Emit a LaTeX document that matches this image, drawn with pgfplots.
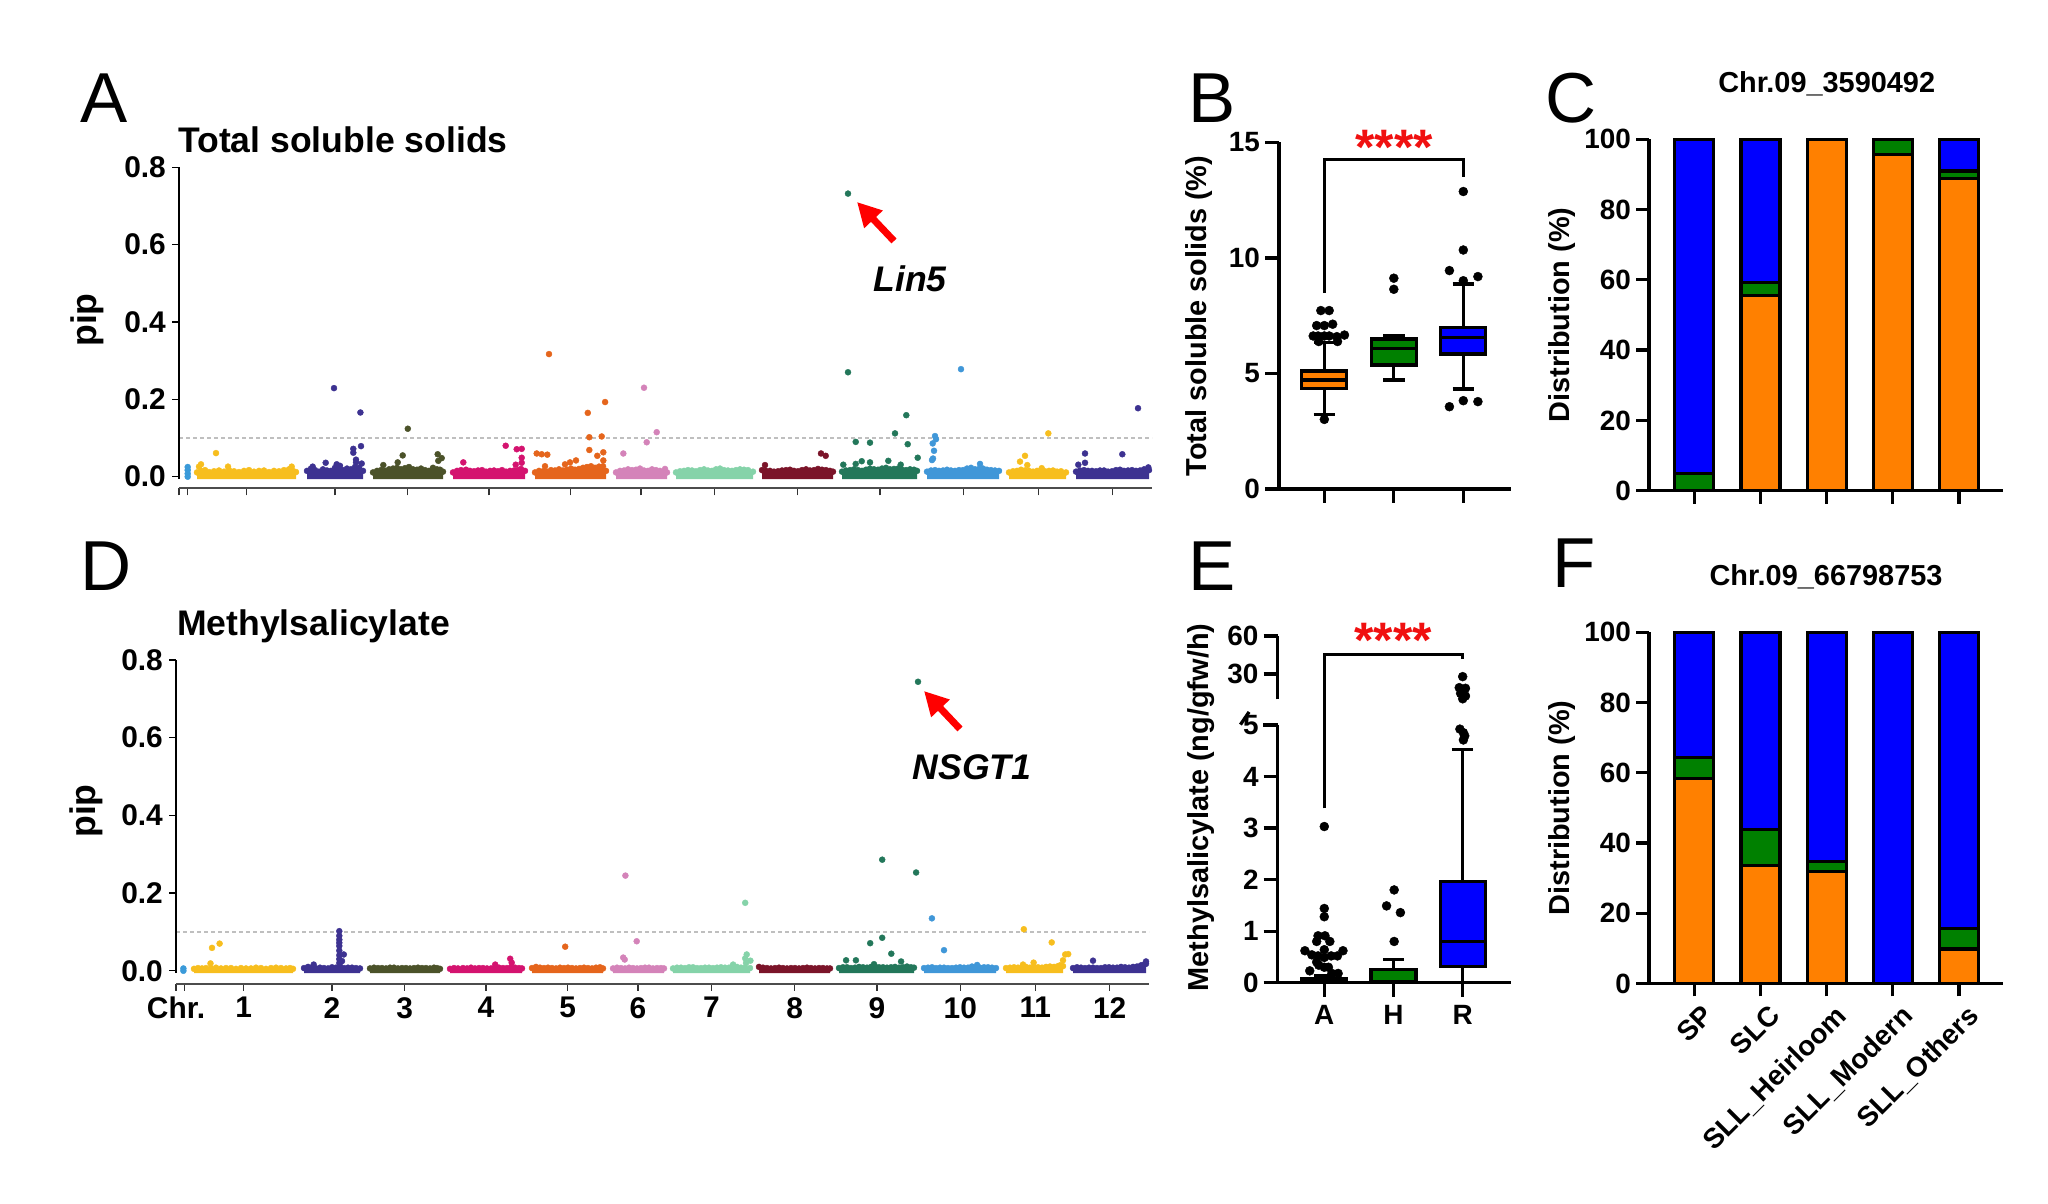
\documentclass[border=0pt]{standalone}
\usepackage{fontspec}
\setmainfont{Liberation Sans}
\usepackage{pgfplots}
\pgfplotsset{compat=1.18}
\usepgfplotslibrary{statistics}
\usetikzlibrary{arrows.meta}

\definecolor{mz0}{HTML}{3A9AD9}
\definecolor{mz1}{HTML}{F7BE1E}
\definecolor{mz2}{HTML}{3D3291}
\definecolor{mz3}{HTML}{4B5229}
\definecolor{mz4}{HTML}{D4136F}
\definecolor{mz5}{HTML}{E5651C}
\definecolor{mz6}{HTML}{D483B9}
\definecolor{mz7}{HTML}{85D3A9}
\definecolor{mz8}{HTML}{7B1429}
\definecolor{mz9}{HTML}{23775A}
\definecolor{mzten}{HTML}{4097D8}
\definecolor{gporange}{HTML}{FF8000}
\definecolor{gpgreen}{HTML}{008000}
\definecolor{gpblue}{HTML}{0000FF}
\definecolor{starred}{HTML}{F01010}

\newcommand\tickfont{\fontsize{28}{30}\selectfont\bfseries}
\newcommand\mztickfont{\fontsize{30}{32}\selectfont\bfseries}
\newcommand\labfont{\fontsize{29}{31}\selectfont\bfseries}
\newcommand\titfont{\fontsize{35.7}{38}\selectfont\bfseries}
\newcommand\subtitfont{\fontsize{29}{31}\selectfont\bfseries}
\newcommand\letfont{\fontsize{71}{75}\selectfont}
\newcommand\starfont{\fontsize{50}{52}\selectfont\bfseries}

% color, x0, x1, bottom, band tops, outliers
\newcommand\mzchr[6]{%
  \addplot[fill=#1, draw=none] coordinates {(#2,#4) #5 (#3,#4)};
  \addplot[only marks, mark=*, mark size=3bp, color=#1] coordinates {#5 #6};
}

\pgfplotsset{
  mz/.style={anchor=south west, scale only axis, clip=false,
    xmin=0, xmax=973, ymax=0.8,
    axis x line=bottom, axis y line=left, axis line style={-},
    x axis line style={draw=black!70, line width=2bp},
    y axis line style={draw=none},
    xtick={0,8.7,67.7,156,228.7,310,391.7,462,535.3,618.7,701,784.3,859.3,933.7},
    ytick={0,0.2,0.4,0.6,0.8}, yticklabels={0.0,0.2,0.4,0.6,0.8},
    tick align=outside, major tick length=7bp,
    xtick style={draw=black!80, line width=1.5bp},
    ytick style={draw=black, line width=1.3bp},
    ticklabel style={font=\mztickfont},
    yticklabel style={inner sep=0pt, xshift=-6bp},
    xticklabel style={inner sep=0pt, yshift=-6bp},
  },
  mzthr/.style={draw=black!25, line width=1.3bp, dash pattern=on 4bp off 3bp},
  gp/.style={anchor=south west, scale only axis, clip=false,
    axis x line=bottom, axis y line=left,
    axis line style={-, line width=3.3bp, black},
    tick align=outside, major tick length=14bp,
    tick style={line width=3.3bp, black},
    ticklabel style={font=\tickfont},
    yticklabel style={inner sep=0pt, xshift=-5bp},
    xticklabel style={inner sep=0pt, yshift=-8bp},
  },
  gpbox/.style={draw=black, line width=3.3bp, boxplot/draw direction=y},
}

\begin{document}
\begin{tikzpicture}
\useasboundingbox (0,0) rectangle (2048bp,1204bp);

%================ Panel A =================
\begin{axis}[mz, at={(179bp,715.7bp)}, width=973bp, height=321bp, ymin=-0.030,
  xticklabels={}]
\addplot[mzthr] coordinates {(0,0.1) (973,0.1)};
\mzchr{mz0}{8.7}{8.7}{-0.006}{(8.7,0.0)(8.7,0.008)(8.7,0.017)(8.7,0.025)}{}
\mzchr{mz1}{18}{117}{-0.006}{(18,0.011)(22,0.015)(26,0.017)(30,0.012)(35,0.014)(40,0.016)(45,0.013)(50,0.017)(55,0.014)(60,0.012)(65,0.015)(70,0.017)(75,0.013)(80,0.015)(85,0.016)(90,0.012)(95,0.015)(100,0.014)(105,0.017)(110,0.019)(114,0.015)(117,0.012)}{(37,0.061)(22,0.032)(20,0.026)(112.7,0.026)(49,0.026)}
\mzchr{mz2}{128}{184}{-0.006}{(128,0.015)(132,0.021)(136,0.017)(140,0.013)(144,0.019)(148,0.016)(152,0.015)(156,0.023)(160,0.018)(164,0.017)(168,0.021)(172,0.019)(176,0.025)(180,0.023)(184,0.015)}{(155,0.229)(181.4,0.166)(182,0.079)(174.3,0.072)(174.3,0.062)(177,0.044)(177,0.037)(146.7,0.036)(157.7,0.032)(161,0.028)(133.7,0.026)(182.7,0.034)}
\mzchr{mz3}{194}{264}{-0.006}{(194,0.011)(198,0.015)(202,0.017)(206,0.015)(210,0.019)(214,0.021)(218,0.023)(222,0.019)(226,0.022)(230,0.025)(234,0.019)(238,0.018)(242,0.021)(246,0.017)(250,0.015)(254,0.023)(258,0.019)(261,0.018)(264,0.013)}{(228.8,0.124)(223.7,0.055)(258.7,0.058)(262.7,0.048)(259.3,0.041)(204.3,0.030)(218.7,0.037)}
\mzchr{mz4}{274}{346}{-0.006}{(274,0.011)(278,0.015)(282,0.017)(287,0.018)(291,0.015)(295,0.014)(299,0.016)(303,0.017)(307,0.013)(311,0.015)(315,0.016)(319,0.014)(323,0.017)(327,0.013)(331,0.015)(335,0.016)(339,0.017)(342,0.020)(346,0.015)}{(326.7,0.080)(337.7,0.071)(342.7,0.072)(342.7,0.049)(342.7,0.036)(284.3,0.037)(336.7,0.031)}
\mzchr{mz5}{356}{427}{-0.006}{(356,0.011)(360,0.015)(364,0.014)(368,0.013)(372,0.017)(376,0.016)(380,0.019)(384,0.016)(388,0.018)(392,0.021)(396,0.018)(400,0.020)(404,0.023)(408,0.025)(412,0.027)(416,0.023)(420,0.026)(424,0.027)(427,0.015)}{(370,0.317)(426.1,0.193)(408.8,0.165)(410.3,0.102)(422.7,0.104)(410.3,0.069)(424.3,0.063)(418.3,0.054)(357.7,0.060)(362.7,0.058)(368.3,0.057)(397,0.042)(391,0.037)(386,0.032)(366,0.027)(424.3,0.042)}
\mzchr{mz6}{437}{488}{-0.006}{(437,0.011)(441,0.015)(445,0.016)(449,0.019)(453,0.017)(457,0.018)(461,0.021)(465,0.016)(469,0.015)(473,0.019)(477,0.017)(481,0.015)(485,0.013)(488,0.011)}{(465,0.230)(477.7,0.115)(467.7,0.089)(444.3,0.060)(486,0.020)}
\mzchr{mz7}{497}{574}{-0.006}{(497,0.011)(501,0.014)(505,0.015)(509,0.017)(513,0.016)(517,0.014)(521,0.017)(525,0.019)(529,0.016)(533,0.015)(537,0.019)(541,0.021)(545,0.017)(549,0.016)(553,0.015)(557,0.017)(561,0.019)(565,0.018)(569,0.017)(574,0.013)}{}
\mzchr{mz8}{583}{654}{-0.006}{(583,0.017)(587,0.015)(591,0.015)(595,0.013)(599,0.014)(603,0.016)(607,0.017)(611,0.018)(615,0.015)(619,0.014)(623,0.017)(627,0.019)(631,0.016)(635,0.017)(639,0.020)(643,0.018)(647,0.017)(651,0.015)(654,0.013)}{(642,0.060)(646.7,0.054)(586,0.030)}
\mzchr{mz9}{663}{738}{-0.006}{(663,0.013)(667,0.016)(671,0.017)(675,0.019)(679,0.017)(683,0.015)(687,0.018)(691,0.021)(695,0.019)(699,0.018)(703,0.021)(707,0.023)(711,0.019)(715,0.020)(719,0.021)(723,0.018)(727,0.017)(731,0.019)(735,0.018)(738,0.015)}{(669,0.732)(669,0.270)(727.3,0.159)(716,0.112)(676.7,0.090)(691,0.088)(728.7,0.084)(738.7,0.049)(709.3,0.041)(682.7,0.040)(691,0.037)(676.7,0.033)(664.3,0.031)(721.7,0.031)}
\mzchr{mzten}{748}{820}{-0.006}{(748,0.013)(752,0.016)(756,0.017)(760,0.015)(764,0.016)(768,0.018)(772,0.016)(776,0.015)(780,0.017)(784,0.017)(788,0.021)(792,0.023)(796,0.019)(800,0.020)(804,0.021)(808,0.018)(812,0.017)(816,0.016)(820,0.015)}{(782,0.278)(756,0.105)(757,0.097)(753.7,0.086)(755,0.067)(754,0.047)(753,0.043)(801,0.033)}
\mzchr{mz1}{830}{887}{-0.006}{(830,0.011)(834,0.014)(838,0.015)(842,0.018)(846,0.016)(850,0.015)(854,0.013)(858,0.015)(862,0.016)(866,0.014)(870,0.015)(874,0.016)(878,0.013)(882,0.014)(887,0.011)}{(869.3,0.112)(846,0.054)(841,0.039)(848.3,0.030)(862.7,0.022)}
\mzchr{mz2}{897}{970}{-0.006}{(897,0.013)(901,0.016)(905,0.017)(909,0.015)(913,0.015)(917,0.014)(921,0.016)(925,0.016)(929,0.013)(933,0.014)(937,0.017)(941,0.018)(945,0.015)(949,0.016)(953,0.017)(957,0.015)(961,0.016)(965,0.019)(970,0.017)}{(959,0.177)(906,0.060)(943.3,0.058)(906,0.036)(899.3,0.031)(969.3,0.024)}
\draw[line width=1.3bp] (axis cs:0,-0.005) -- (axis cs:0,0.8);
\end{axis}

%================ Panel D =================
\begin{axis}[mz, at={(176bp,220bp)}, width=973bp, height=324bp, ymin=-0.034,
  xticklabels={Chr.,,1,2,3,4,5,6,7,8,9,10,11,12}]
\addplot[mzthr] coordinates {(0,0.1) (973,0.1)};
\mzchr{mz0}{7.4}{7.4}{-0.006}{(7.4,0.0)(7.4,0.006)}{}
\mzchr{mz1}{18}{117}{-0.006}{(18,0.005)(22,0.007)(26,0.006)(30,0.007)(35,0.006)(40,0.008)(45,0.006)(50,0.007)(55,0.007)(60,0.005)(65,0.007)(70,0.006)(75,0.006)(80,0.008)(85,0.007)(90,0.005)(95,0.007)(100,0.008)(105,0.007)(110,0.006)(114,0.007)(117,0.005)}{(43.6,0.070)(36,0.059)(34.5,0.019)}
\mzchr{mz2}{128}{184}{-0.006}{(128,0.007)(132,0.010)(136,0.008)(140,0.006)(144,0.008)(148,0.007)(152,0.006)(156,0.009)(160,0.008)(164,0.012)(168,0.007)(172,0.008)(176,0.008)(180,0.007)(184,0.006)}{(163.3,0.102)(163.3,0.090)(163.3,0.080)(163.3,0.072)(163.3,0.064)(163.3,0.052)(163.3,0.040)(163.3,0.030)(163.3,0.020)(167.8,0.042)(137.7,0.016)(166,0.025)}
\mzchr{mz3}{194}{264}{-0.006}{(194,0.006)(198,0.008)(202,0.007)(206,0.007)(210,0.006)(214,0.008)(218,0.008)(222,0.006)(226,0.007)(230,0.007)(234,0.006)(238,0.007)(242,0.008)(246,0.007)(250,0.007)(254,0.006)(258,0.008)(261,0.007)(264,0.005)}{}
\mzchr{mz4}{274}{346}{-0.006}{(274,0.005)(278,0.007)(282,0.006)(287,0.007)(291,0.006)(295,0.008)(299,0.006)(303,0.007)(307,0.007)(311,0.006)(315,0.006)(319,0.008)(323,0.008)(327,0.007)(331,0.007)(335,0.009)(339,0.008)(343,0.007)(346,0.006)}{(334.2,0.031)(335.7,0.021)(319.2,0.016)}
\mzchr{mz5}{356}{427}{-0.006}{(356,0.007)(360,0.010)(364,0.008)(368,0.007)(372,0.008)(376,0.007)(380,0.006)(384,0.008)(388,0.007)(392,0.008)(396,0.007)(400,0.006)(404,0.007)(408,0.008)(412,0.007)(416,0.006)(420,0.008)(424,0.009)(427,0.006)}{(389.2,0.062)}
\mzchr{mz6}{437}{488}{-0.006}{(437,0.006)(441,0.008)(445,0.007)(449,0.006)(453,0.008)(457,0.007)(461,0.006)(465,0.007)(469,0.008)(473,0.008)(477,0.006)(481,0.007)(485,0.007)(488,0.006)}{(449.4,0.245)(460.7,0.076)(447.2,0.034)(448.7,0.029)}
\mzchr{mz7}{497}{574}{-0.006}{(497,0.006)(501,0.008)(505,0.008)(509,0.007)(513,0.009)(517,0.009)(521,0.007)(525,0.007)(529,0.008)(533,0.008)(537,0.007)(541,0.008)(545,0.009)(549,0.008)(553,0.008)(557,0.009)(561,0.010)(565,0.008)(569,0.008)(574,0.007)}{(569.2,0.175)(570.7,0.042)(574.4,0.026)(569.2,0.032)(557.1,0.016)(570,0.020)}
\mzchr{mz8}{583}{654}{-0.006}{(583,0.010)(587,0.008)(591,0.007)(595,0.006)(599,0.007)(603,0.008)(607,0.007)(611,0.006)(615,0.007)(619,0.007)(623,0.006)(627,0.007)(631,0.008)(635,0.007)(639,0.006)(643,0.007)(647,0.007)(651,0.006)(654,0.006)}{}
\mzchr{mz9}{663}{738}{-0.006}{(663,0.007)(667,0.009)(671,0.009)(675,0.007)(679,0.008)(683,0.010)(687,0.009)(691,0.008)(695,0.010)(699,0.011)(703,0.009)(707,0.009)(711,0.008)(715,0.009)(719,0.010)(723,0.008)(727,0.009)(731,0.011)(735,0.009)(738,0.008)}{(742,0.744)(706.2,0.286)(740.1,0.253)(706.2,0.085)(694.2,0.071)(715.3,0.044)(670.1,0.027)(679.9,0.027)(725.1,0.024)(698,0.017)}
\mzchr{mzten}{748}{820}{-0.006}{(748,0.007)(752,0.008)(756,0.009)(760,0.007)(764,0.008)(768,0.008)(772,0.007)(776,0.007)(780,0.008)(784,0.009)(788,0.008)(792,0.008)(796,0.011)(800,0.009)(804,0.008)(808,0.009)(812,0.009)(816,0.008)(820,0.007)}{(755.9,0.135)(768,0.053)(801.1,0.015)}
\mzchr{mz1}{830}{887}{-0.006}{(830,0.007)(834,0.008)(838,0.009)(842,0.008)(846,0.009)(850,0.010)(854,0.008)(858,0.009)(862,0.009)(866,0.008)(870,0.010)(874,0.011)(878,0.010)(882,0.012)(884,0.014)(887,0.012)}{(847.8,0.107)(875.7,0.073)(892.2,0.043)(889.2,0.042)(887,0.027)(857.6,0.021)(847,0.016)}
\mzchr{mz2}{897}{970}{-0.006}{(897,0.007)(901,0.009)(905,0.008)(909,0.007)(913,0.008)(917,0.008)(921,0.007)(925,0.007)(929,0.009)(933,0.009)(937,0.008)(941,0.008)(945,0.010)(949,0.009)(953,0.008)(957,0.010)(961,0.011)(965,0.014)(970,0.018)}{(917,0.026)(970,0.024)(968,0.016)}
\draw[line width=1.3bp] (axis cs:0,-0.005) -- (axis cs:0,0.8);
\end{axis}

% titles, labels, arrows for A and D
\node[anchor=base west, inner sep=0, font=\titfont] at (178bp,1051bp) {Total soluble solids};
\node[anchor=base west, inner sep=0, font=\titfont] at (177bp,568bp) {Methylsalicylate};
\node[rotate=90, inner sep=0, font=\titfont] at (87bp,884bp) {pip};
\node[rotate=90, inner sep=0, font=\titfont] at (86bp,393bp) {pip};
\draw[red, line width=7bp, -{Triangle[length=24bp, width=24bp]}] (894bp,963bp) -- (857bp,1002bp);
\draw[red, line width=7bp, -{Triangle[length=24bp, width=24bp]}] (960bp,475bp) -- (924bp,513bp);
\node[inner sep=0, font=\titfont\itshape] at (910bp,925bp) {Lin5};
\node[inner sep=0, font=\titfont\itshape] at (972bp,437bp) {NSGT1};

%================ Panel B =================
\begin{axis}[gp, at={(1279bp,715bp)}, width=231.7bp, height=346.7bp,
  xmin=0.348, xmax=3.682, ymin=0, ymax=15,
  ytick={0,5,10,15}, yticklabels={0,5,10,15},
  xtick={1,2,3}, xticklabels={,,}]
\addplot[gpbox, fill=gporange, boxplot prepared={draw position=1, lower whisker=3.23, lower quartile=4.36, median=4.72, upper quartile=5.11, upper whisker=6.35, box extend=0.647, whisker extend=0.31}] coordinates {};
\addplot[gpbox, fill=gpgreen, boxplot prepared={draw position=2, lower whisker=4.72, lower quartile=5.37, median=6.07, upper quartile=6.49, upper whisker=6.65, box extend=0.647, whisker extend=0.31}] coordinates {};
\addplot[gpbox, fill=gpblue, boxplot prepared={draw position=3, lower whisker=4.33, lower quartile=5.84, median=6.56, upper quartile=7.0, upper whisker=8.87, box extend=0.647, whisker extend=0.31}] coordinates {};
\addplot[only marks, mark=*, mark size=4.5bp, black] coordinates {
 (1,3.01) (0.84,6.62) (0.91,6.62) (1,6.62) (1.07,6.62) (1.18,6.59) (1.29,6.66) (1.19,6.38) (0.92,6.38)
 (0.89,7.07) (1,7.07) (1.12,7.13) (0.95,7.72) (1.07,7.72)
 (2,9.12) (2,8.64)
 (3,12.87) (3,10.34) (2.80,9.45) (3,9.01) (3.21,9.19) (2.80,3.56) (3,3.82) (3.21,3.78)};
\draw[line width=3.3bp] (axis cs:1,8.47) -- (axis cs:1,14.27) -- (axis cs:3,14.27) -- (axis cs:3,13.49);
\end{axis}
\node[anchor=base, inner sep=0, text=starred, font=\starfont] at (1394bp,1039bp) {****};
\node[rotate=90, inner sep=0, font=\labfont] at (1199bp,888bp) {Total soluble solids (\%)};

%================ Panel E =================
\begin{axis}[gp, at={(1277.7bp,221.3bp)}, width=233bp, height=257.7bp,
  xmin=0.327, xmax=3.694, ymin=0, ymax=5,
  ytick={0,1,2,3,4,5}, yticklabels={0,1,2,3,4,5},
  xtick={1,2,3}, xticklabels={A,H,R}]
\addplot[gpbox, fill=gporange, boxplot prepared={draw position=1, lower whisker=0, lower quartile=0.01, median=0.04, upper quartile=0.085, upper whisker=0.13, box extend=0.65, whisker extend=0.31}] coordinates {};
\addplot[gpbox, fill=gpgreen, boxplot prepared={draw position=2, lower whisker=0, lower quartile=0.02, median=0.03, upper quartile=0.26, upper whisker=0.45, box extend=0.65, whisker extend=0.31}] coordinates {};
\addplot[gpbox, fill=gpblue, boxplot prepared={draw position=3, lower whisker=0, lower quartile=0.32, median=0.80, upper quartile=1.97, upper whisker=4.52, box extend=0.65, whisker extend=0.31}] coordinates {};
\addplot[only marks, mark=*, mark size=4.5bp, black] coordinates {
 (1,3.03) (1,1.44) (1,1.28) (0.91,0.91) (1.01,0.91) (0.89,0.80) (1.08,0.80) (1,0.64) (0.72,0.62) (1.27,0.62)
 (0.82,0.54) (0.91,0.52) (1.10,0.52) (1.19,0.52) (1,0.49) (0.89,0.40) (0.92,0.34) (1,0.30) (1.06,0.30)
 (0.79,0.23) (1.11,0.18) (1.20,0.18)
 (2.01,1.80) (1.90,1.49) (2.10,1.36) (2.01,0.80)
 (3.01,4.85) (2.96,4.92) (3.03,4.79) (3.01,4.71)};
\draw[line width=3.3bp] (axis cs:0.327,5) -- ++(8bp,0);
\draw[line width=3.3bp] (axis cs:1,3.38) -- (axis cs:1,6.37) -- (axis cs:3,6.37) -- (axis cs:3,6.28);
\end{axis}
\begin{axis}[gp, at={(1277.7bp,504.7bp)}, width=233bp, height=63.3bp,
  xmin=0.327, xmax=3.694, ymin=10, ymax=60,
  axis x line=none, xtick=\empty,
  ytick={30,60}, yticklabels={30,60}]
\addplot[only marks, mark=*, mark size=4.5bp, black] coordinates {
 (3,27.9) (2.95,19.2) (3.04,18.7) (2.97,14.7) (3.04,12.6) (3,10.4)};
\draw[line width=3.3bp] (axis cs:0.327,10) ++(-6bp,0) -- ++(14bp,0);
\end{axis}
\node[anchor=base, inner sep=0, text=starred, font=\starfont] at (1393bp,546bp) {****};
\node[rotate=90, inner sep=0, font=\labfont] at (1201bp,396.5bp) {Methylsalicylate (ng/gfw/h)};

%================ Panel C =================
\begin{axis}[gp, ybar stacked, bar width=39bp,
  at={(1649bp,713.3bp)}, width=354bp, height=351.4bp,
  xmin=-0.684, xmax=4.665, ymin=0, ymax=100, major tick length=13bp,
  ytick={0,20,40,60,80,100}, yticklabels={0,20,40,60,80,100},
  xtick={0,1,2,3,4}, xticklabels={,,,,}]
\addplot[gpbox, fill=gporange] coordinates {(0,0) (1,55.5) (2,100) (3,95.7) (4,88.9)};
\addplot[gpbox, fill=gpgreen] coordinates {(0,4.9) (1,3.8) (2,0) (3,4.3) (4,2.1)};
\addplot[gpbox, fill=gpblue] coordinates {(0,95.1) (1,40.7) (2,0) (3,0) (4,9.0)};
\end{axis}
\node[inner sep=0, font=\subtitfont] at (1826.7bp,1120bp) {Chr.09\_3590492};
\node[rotate=90, inner sep=0, font=\labfont] at (1562bp,889bp) {Distribution (\%)};

%================ Panel F =================
\begin{axis}[gp, ybar stacked, bar width=39bp,
  at={(1649bp,220.5bp)}, width=354bp, height=351.2bp,
  xmin=-0.684, xmax=4.665, ymin=0, ymax=100, major tick length=13bp,
  ytick={0,20,40,60,80,100}, yticklabels={0,20,40,60,80,100},
  xtick={0,1,2,3,4}, xticklabels={SP,SLC,SLL\_Heirloom,SLL\_Modern,SLL\_Others},
  xticklabel style={rotate=45, anchor=north east, inner sep=0pt, yshift=-4bp, xshift=6bp}]
\addplot[gpbox, fill=gporange] coordinates {(0,58.4) (1,33.6) (2,31.9) (3,0) (4,9.8)};
\addplot[gpbox, fill=gpgreen] coordinates {(0,5.9) (1,10.2) (2,2.9) (3,0) (4,5.8)};
\addplot[gpbox, fill=gpblue] coordinates {(0,35.7) (1,56.2) (2,65.2) (3,100) (4,84.4)};
\end{axis}
\node[inner sep=0, font=\subtitfont] at (1826bp,627bp) {Chr.09\_66798753};
\node[rotate=90, inner sep=0, font=\labfont] at (1562bp,396bp) {Distribution (\%)};

%================ Panel letters =================
\node[anchor=base west, inner sep=0, font=\letfont] at (80bp,1081bp) {A};
\node[anchor=base west, inner sep=0, font=\letfont] at (1188bp,1081bp) {B};
\node[anchor=base west, inner sep=0, font=\letfont] at (1545bp,1081bp) {C};
\node[anchor=base west, inner sep=0, font=\letfont] at (80bp,613bp) {D};
\node[anchor=base west, inner sep=0, font=\letfont] at (1188bp,613bp) {E};
\node[anchor=base west, inner sep=0, font=\letfont] at (1552bp,616bp) {F};
\end{tikzpicture}
\end{document}
